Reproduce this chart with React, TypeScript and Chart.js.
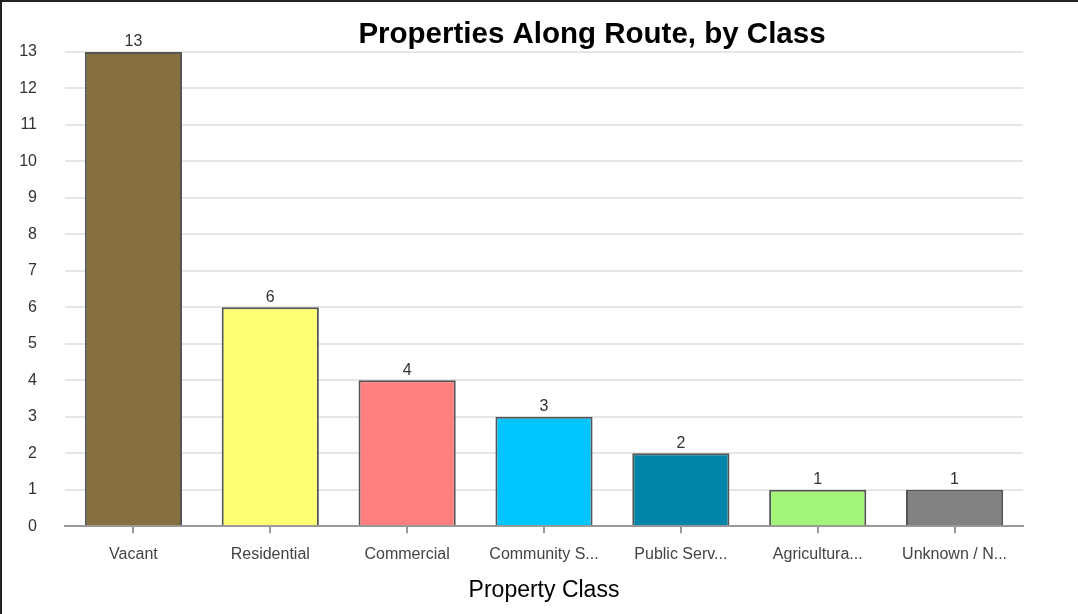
import React, { useEffect, useRef } from "react";
import { Chart, registerables } from "chart.js";

Chart.register(...registerables);

const categories = [
  "Vacant",
  "Residential",
  "Commercial",
  "Community Services",
  "Public Service",
  "Agricultural",
  "Unknown / Not Classified",
];
const counts = [13, 6, 4, 3, 2, 1, 1];
const barColors = ["#87703F", "#FFFF73", "#FF7F7F", "#00C5FF", "#0084A8", "#A3F57A", "#828282"];
const yTicks = [0, 1, 2, 3, 4, 5, 6, 7, 8, 9, 10, 11, 12, 13];

const FONT = "'Liberation Sans', Arial, Helvetica, sans-serif";

const titlePlugin = {
  id: "customTitle",
  afterDraw(chart: any) {
    const ctx = chart.ctx;
    ctx.save();
    ctx.font = `bold 29.5px ${FONT}`;
    ctx.fillStyle = "#000";
    ctx.textAlign = "center";
    ctx.textBaseline = "middle";
    ctx.fillText("Properties Along Route, by Class", 592, 35);
    ctx.restore();
  },
};

const valueLabelPlugin = {
  id: "valueLabels",
  afterDatasetsDraw(chart: any) {
    const ctx = chart.ctx;
    const meta = chart.getDatasetMeta(0);
    ctx.save();
    ctx.font = `16px ${FONT}`;
    ctx.fillStyle = "#333";
    ctx.textAlign = "center";
    ctx.textBaseline = "bottom";
    meta.data.forEach((bar: any, i: number) => {
      ctx.fillText(String(counts[i]), bar.x, bar.y - 2);
    });
    ctx.restore();
  },
};

export default function App() {
  const ref = useRef<HTMLCanvasElement | null>(null);

  useEffect(() => {
    if (!ref.current) return;
    const chart = new Chart(ref.current, {
      type: "bar",
      data: {
        labels: categories,
        datasets: [
          {
            data: counts,
            backgroundColor: barColors,
            borderColor: "#555",
            borderWidth: 2,
            barPercentage: 0.71,
            categoryPercentage: 1,
          },
        ],
      },
      options: {
        animation: false,
        responsive: true,
        maintainAspectRatio: false,
        layout: { padding: { top: 52, right: 55, bottom: 10, left: 0 } },
        plugins: {
          legend: { display: false },
          title: { display: false },
          tooltip: { enabled: false },
        },
        scales: {
          x: {
            grid: {
              display: true,
              drawOnChartArea: false,
              drawTicks: true,
              tickLength: 7,
              offset: false,
              color: "#999",
              lineWidth: 2,
            },
            border: { display: true, color: "#999", width: 2 },
            ticks: {
              color: "#444",
              font: { family: FONT, size: 16 },
              padding: 12,
              maxRotation: 0,
              autoSkip: false,
              callback: (_v: any, i: number) => {
                const s = categories[i];
                return s.length > 11 ? s.slice(0, 11) + "..." : s;
              },
            },
            title: {
              display: true,
              text: "Property Class",
              color: "#000",
              font: { family: FONT, size: 23 },
              padding: { top: 0, bottom: 0 },
            },
          },
          y: {
            min: 0,
            max: 13,
            afterBuildTicks: (scale: any) => {
              scale.ticks = yTicks.map((v) => ({ value: v }));
            },
            afterFit: (scale: any) => {
              scale.width = 65;
            },
            grid: { color: "#e6e6e6", lineWidth: 2, drawTicks: false },
            border: { display: false },
            ticks: {
              color: "#333",
              font: { family: FONT, size: 16 },
              padding: 28,
            },
          },
        },
      },
      plugins: [valueLabelPlugin, titlePlugin],
    });
    return () => chart.destroy();
  }, []);

  return (
    <div style={{ position: "fixed", left: 0, top: 0, width: 1078, height: 614, background: "#fff" }}>
      <canvas ref={ref} />
      <div
        style={{
          position: "absolute",
          left: 0,
          top: 0,
          width: 1078,
          height: 614,
          borderTop: "2px solid #222",
          borderLeft: "2px solid #222",
          boxSizing: "border-box",
          pointerEvents: "none",
        }}
      />
    </div>
  );
}
